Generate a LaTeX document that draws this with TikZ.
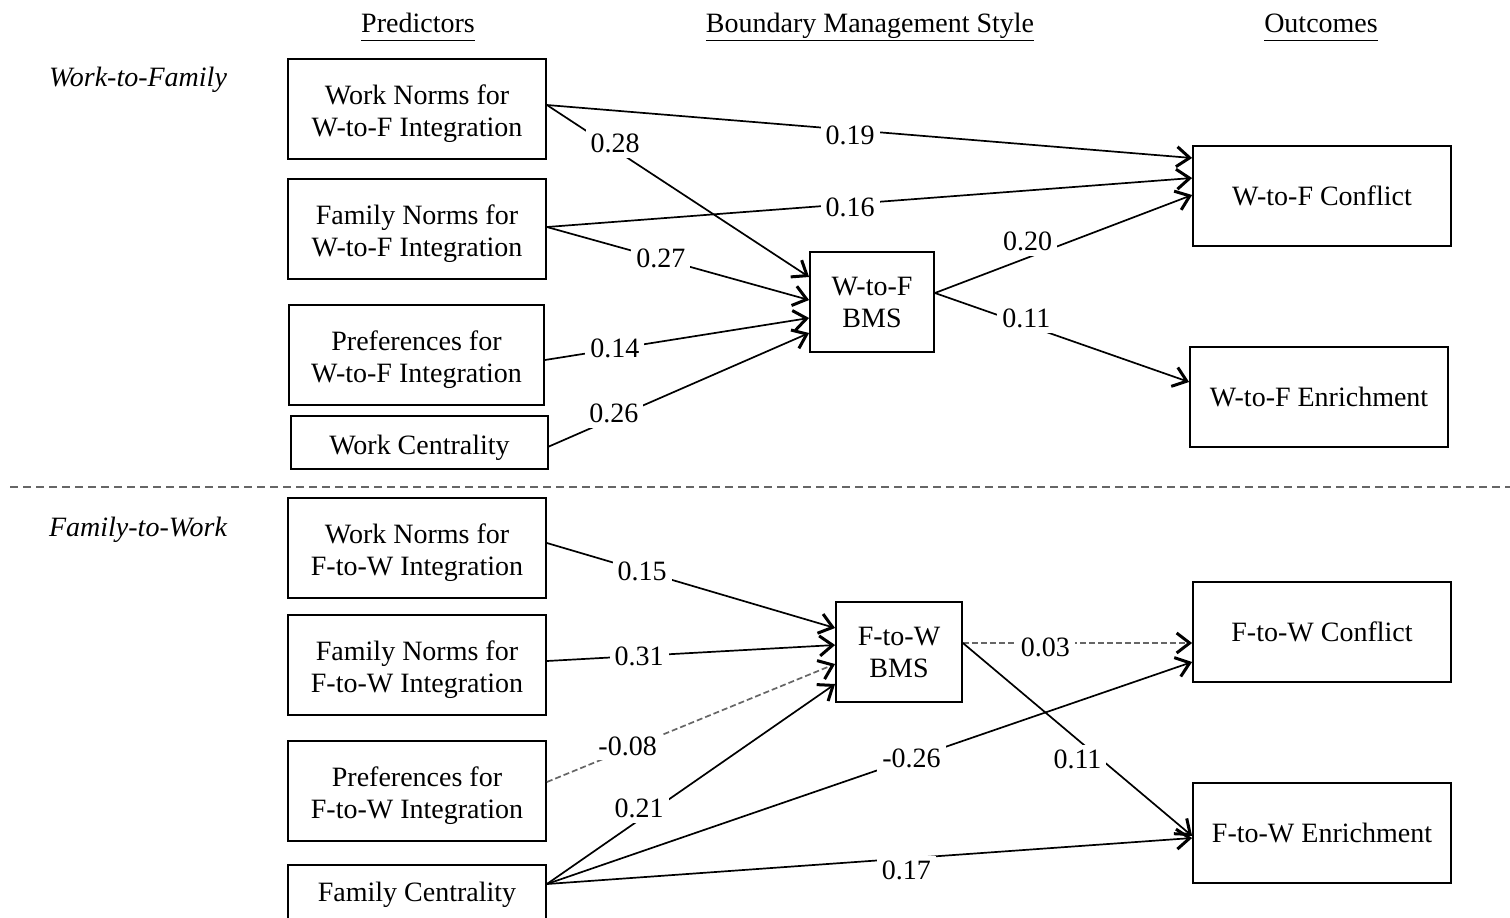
\documentclass[tikz,border=0pt]{standalone}
\usepackage{fontspec}
\setmainfont{Liberation Serif}
\usetikzlibrary{arrows.meta,calc}
\newcommand{\tpad}{\rule{0pt}{15pt}}
\begin{document}
\begin{tikzpicture}[x=0.5pt,y=0.5pt,
  txt/.style={font=\fontsize{14}{16}\selectfont},
  box/.style={txt, draw, line width=0.9pt, minimum width=129pt, minimum height=50pt, align=center, inner sep=0pt},
  arr/.style={line width=0.85pt, -{Straight Barb[length=6.5pt,width=10pt,line width=1.5pt,color=black]}},
  dsh/.style={arr, black!60, dash pattern=on 3pt off 1.5pt},
  lab/.style={txt, fill=white, inner sep=2.5pt},
  head/.style={txt, anchor=base},
  side/.style={txt, font=\fontsize{14}{16}\selectfont\itshape}]
\useasboundingbox (0,0) rectangle (1510,-917);
\clip (0,0) rectangle (1510,-917);
% headers
\node[head] (h1) at (418,-32) {\underline{Predictors\vphantom{y}}};
\node[head] (h2) at (870,-32) {\underline{Boundary Management Style}};
\node[head] (h3) at (1321,-32) {\underline{Outcomes\vphantom{y}}};
\node[side] (s1) at (138,-80) {Work-to-Family};
\node[side] (s2) at (138,-530) {Family-to-Work};
% separator
\coordinate (sepL) at (10,-487);
\coordinate (sepR) at (1510,-487);
\draw[black!60, line width=0.9pt, dash pattern=on 4pt off 2.5pt] (sepL) -- (sepR);
% upper boxes
\node[box] (wn1) at (417,-109) {\tpad Work Norms for\\W-to-F Integration};
\node[box] (fn1) at (417,-229) {\tpad Family Norms for\\W-to-F Integration};
\node[box, minimum width=127.5pt] (pf1) at (416.5,-355) {\tpad Preferences for\\W-to-F Integration};
\node[box, minimum width=128.5pt, minimum height=26.5pt] (wc) at (419.5,-442.5) {\tpad Work Centrality};
\node[box, minimum width=62pt] (wb) at (872,-302) {W-to-F\\BMS};
\node[box] (wcf) at (1322,-196) {W-to-F Conflict};
\node[box] (wen) at (1319,-397) {W-to-F Enrichment};
% lower boxes
\node[box] (wn2) at (417,-548) {\tpad Work Norms for\\F-to-W Integration};
\node[box] (fn2) at (417,-665) {\tpad Family Norms for\\F-to-W Integration};
\node[box] (pf2) at (417,-791) {\tpad Preferences for\\F-to-W Integration};
\node[box, minimum height=30pt] (fc) at (417,-895) {Family Centrality};
\node[box, minimum width=63pt] (fb) at (899,-652) {F-to-W\\BMS};
\node[box] (fcf) at (1322,-632) {F-to-W Conflict};
\node[box] (fen) at (1322,-833) {F-to-W Enrichment};
% upper arrows
\draw[arr] ([yshift=2pt]wn1.east) -- node[lab, pos=0.47, yshift=-2.5pt] {0.19} ([yshift=19pt]wcf.west);
\draw[arr] ([yshift=2pt]wn1.east) -- node[lab, pos=0.26, yshift=3pt] {0.28} ([yshift=12.5pt]wb.west);
\draw[arr] ([yshift=1pt]fn1.east) -- node[lab, pos=0.47, yshift=-1.5pt] {0.16} ([yshift=9pt]wcf.west);
\draw[arr] ([yshift=1pt]fn1.east) -- node[lab, pos=0.435] {0.27} ([yshift=1pt]wb.west);
\draw[arr] ([yshift=-2.5pt]pf1.east) -- node[lab, pos=0.265] {0.14} ([yshift=-8pt]wb.west);
\draw[arr] ([yshift=-2pt]wc.east) -- node[lab, pos=0.25, yshift=2.5pt] {0.26} ([yshift=-15.5pt]wb.west);
\draw[arr] ([yshift=4.5pt]wb.east) -- node[lab, pos=0.36, yshift=8pt] {0.20} ([yshift=0.5pt]wcf.west);
\draw[arr] ([yshift=4.5pt]wb.east) -- node[lab, pos=0.36, yshift=3.5pt] {0.11} ([yshift=7.5pt]wen.west);
% lower arrows
\draw[arr] ([yshift=2.5pt]wn2.east) -- node[lab, pos=0.33] {0.15} ([yshift=12pt]fb.west);
\draw[arr] ([yshift=2pt]fn2.east) -- node[lab, pos=0.32] {0.31} ([yshift=3.5pt]fb.west);
\draw[dsh] ([yshift=4.5pt]pf2.east) -- node[lab, text=black, pos=0.28, yshift=1.5pt] {-0.08} ([yshift=-6pt]fb.west);
\draw[arr] ([yshift=5.5pt]fc.east) -- node[lab, pos=0.32, yshift=6pt] {0.21} ([yshift=-16pt]fb.west);
\draw[arr] ([yshift=5.5pt]fc.east) -- node[lab, pos=0.565] {-0.26} ([yshift=-15pt]fcf.west);
\draw[arr] ([yshift=5.5pt]fc.east) -- node[lab, pos=0.557, yshift=-6pt] {0.17} ([yshift=-2.5pt]fen.west);
\draw[dsh] ([yshift=4.5pt]fb.east) -- node[lab, text=black, pos=0.36, yshift=-2pt] {0.03} ([yshift=-5.5pt]fcf.west);
\draw[arr] ([yshift=4.5pt]fb.east) -- node[lab, pos=0.5, yshift=-10pt] {0.11} ([yshift=-1.5pt]fen.west);
\end{tikzpicture}
\end{document}
